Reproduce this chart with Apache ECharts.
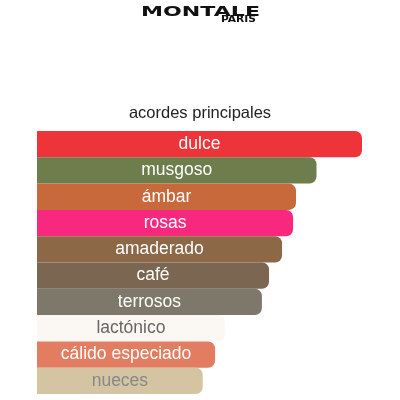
<!DOCTYPE html>
<html><head><meta charset="utf-8">
<script src="https://cdn.jsdelivr.net/npm/echarts@6/dist/echarts.min.js"></script>
<style>html,body{margin:0;padding:0;background:#fff}#c{width:400px;height:400px}</style>
</head><body><div id="c"></div>
<script>
const categories = ["dulce","musgoso","ámbar","rosas","amaderado","café","terrosos","lactónico","cálido especiado","nueces"];
const values = [100, 86, 79.7, 78.8, 75.4, 71.4, 69.2, 57.8, 54.8, 51];
const colors = ["#EE3439","#6E7D4C","#C7693B","#F7287E","#8D6847","#7A6651","#7E786B","#FBF8F4","#E27D61","#D4C4A2"];
const labelColors = ["#fff","#fff","#fff","#fff","#fff","#fff","#fff","#666","#fff","#888"];

const chart = echarts.init(document.getElementById('c'));
chart.setOption({
  backgroundColor: '#fff',
  animation: false,
  graphic: [
    {type:'text', left: 141, top: 5, scaleX: 1.58, style:{text:'MONTALE', font:'bold 14px "DejaVu Sans"', fill:'#111'}},
    {type:'text', left: 221, top: 16, scaleX: 1.33, style:{text:'PARIS', font:'bold 8px "DejaVu Sans"', fill:'#111'}},
    {type:'text', left: 'center', top: 105, style:{text:'acordes principales', font:'16.5px "Liberation Sans"', fill:'#222'}}
  ],
  grid: {left: 37, right: 38, top: 131, bottom: 6},
  xAxis: {type:'value', min:0, max:100, show:false},
  yAxis: {type:'category', data: categories, inverse:true, show:false},
  series: [{
    type:'bar',
    barCategoryGap: 0,
    barWidth: '100%',
    data: values.map((v,i)=>({
      value: v,
      itemStyle:{color: colors[i], borderRadius:[0,7,7,0]},
      label:{color: labelColors[i]}
    })),
    label: {
      show:true, position:'inside',
      formatter: p => categories[p.dataIndex],
      fontFamily:'Liberation Sans', fontSize:17.5
    }
  }]
});
</script></body></html>
